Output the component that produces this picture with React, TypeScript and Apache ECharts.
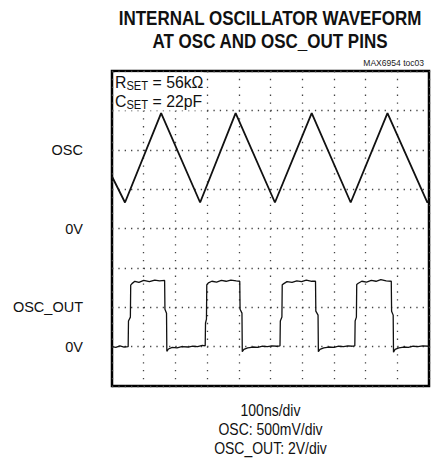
import React, { useEffect, useRef } from "react";
import * as echarts from "echarts";

// time in ns (100 ns/div), vertical in screen divisions (0..8)
const oscPoints: [number, number][] = [
  [0, 5.32], [41, 4.66], [155, 6.93], [278, 4.66], [390, 6.93],
  [514, 4.66], [630, 6.93], [753, 4.66], [869, 6.93], [995, 4.66], [1000, 4.72],
];

const oscOutPoints: [number, number][] = [
  [0, 1.0], [12, 0.98], [25, 1.02], [38, 0.99], [51, 1.0],
  [52, 1.65], [58, 1.75], [59, 2.56], [63, 2.6], [72, 2.66], [85, 2.63], [100, 2.68], [118, 2.65],
  [135, 2.69], [150, 2.67], [166, 2.68],
  [167, 1.95], [172, 1.85], [173, 0.88], [178, 0.94], [190, 0.98], [205, 0.97], [220, 1.0],
  [240, 0.99], [255, 1.01], [270, 1.0], [285, 1.03], [294, 1.02],
  [295, 1.6], [298, 1.7], [299, 2.57], [304, 2.62], [315, 2.66], [330, 2.64], [345, 2.68],
  [360, 2.66], [375, 2.69], [392, 2.67], [403, 2.66],
  [404, 1.95], [410, 1.85], [411, 0.87], [416, 0.93], [428, 0.97], [445, 0.99], [460, 0.98],
  [475, 1.01], [490, 1.0], [505, 1.02], [520, 1.01], [530, 1.02],
  [531, 1.65], [536, 1.75], [537, 2.57], [542, 2.6], [552, 2.65], [568, 2.63], [583, 2.67],
  [598, 2.65], [613, 2.69], [630, 2.66], [642, 2.66],
  [643, 1.9], [650, 1.8], [651, 0.87], [656, 0.93], [668, 0.97], [684, 0.99], [700, 0.98],
  [715, 1.01], [730, 1.0], [745, 1.02], [758, 1.01], [766, 1.02],
  [767, 1.65], [771, 1.75], [772, 2.58], [777, 2.61], [788, 2.66], [803, 2.64], [818, 2.68],
  [833, 2.66], [848, 2.7], [865, 2.67], [881, 2.66],
  [882, 1.9], [887, 1.8], [888, 0.86], [893, 0.93], [905, 0.97], [920, 0.99], [935, 0.98],
  [950, 1.01], [965, 1.0], [980, 1.02], [1000, 1.01],
];

const yTickValues = [6, 4, 2, 1];
const yTickLabels = ["OSC", "0V", "OSC_OUT", "0V"];

const titleLines = ["INTERNAL OSCILLATOR WAVEFORM", "AT OSC AND OSC_OUT PINS"];
const figureId = "MAX6954 toc03";
const scaleLines = ["100ns/div", "OSC: 500mV/div", "OSC_OUT: 2V/div"];

const FONT = '"Liberation Sans", Arial, Helvetica, sans-serif';

export default function App() {
  const ref = useRef<HTMLDivElement>(null);
  useEffect(() => {
    if (!ref.current) return;
    const chart = echarts.init(ref.current, undefined, { renderer: "svg" });
    const option = {
      animation: false,
      backgroundColor: "#fff",
      textStyle: { fontFamily: FONT },
      grid: {
        left: 112,
        top: 71,
        right: 6,
        bottom: 72,
        show: true,
        borderColor: "#000",
        borderWidth: 2.5,
      },
      xAxis: {
        type: "value",
        min: 0,
        max: 1000,
        interval: 100,
        axisLine: { show: false },
        axisTick: { show: false },
        axisLabel: { show: false },
        splitLine: {
          show: true,
          lineStyle: { color: "#444", width: 1.3, type: [1.3, 6.57] },
        },
      },
      yAxis: {
        type: "value",
        min: 0,
        max: 8,
        interval: 1,
        axisLine: { show: false },
        axisTick: { show: false },
        axisLabel: {
          show: true,
          margin: 29,
          color: "#111",
          fontSize: 14.5,
          fontFamily: FONT,
          formatter: (v: number) => {
            const i = yTickValues.indexOf(v);
            return i >= 0 ? yTickLabels[i] : "";
          },
        },
        splitLine: {
          show: true,
          lineStyle: { color: "#444", width: 1.3, type: [1.3, 5.04] },
        },
      },
      series: [
        {
          type: "line",
          data: oscPoints,
          symbol: "none",
          lineStyle: { color: "#111", width: 1.8 },
          z: 5,
        },
        {
          type: "line",
          data: oscOutPoints,
          symbol: "none",
          lineStyle: { color: "#111", width: 1.3 },
          z: 5,
        },
      ],
      graphic: [
        ...titleLines.map((t, i) => ({
          type: "text",
          x: 270,
          y: 18 + i * 23,
          scaleX: 0.85,
          style: {
            text: t,
            align: "center",
            verticalAlign: "middle",
            font: `bold 20px ${FONT}`,
            fill: "#111",
          },
        })),
        {
          type: "text",
          x: 424,
          y: 63,
          scaleX: 0.9,
          style: {
            text: figureId,
            align: "right",
            verticalAlign: "middle",
            font: `9.5px ${FONT}`,
            fill: "#222",
          },
        },
        {
          type: "text",
          x: 115,
          y: 72.5,
          z: 10,
          scaleX: 0.93,
          style: {
            text: "{a|R}{b|SET}{a| = 56kΩ}\n{a|C}{b|SET}{a| = 22pF}",
            fill: "#111",
            backgroundColor: "#fff",
            rich: {
              a: { fontSize: 17, lineHeight: 19, verticalAlign: "middle", fontFamily: FONT, fill: "#111" },
              b: { fontSize: 12, lineHeight: 19, verticalAlign: "bottom", fontFamily: FONT, fill: "#111" },
            },
          },
        },
        ...scaleLines.map((t, i) => ({
          type: "text",
          x: 270.5,
          y: 410 + i * 19,
          scaleX: 0.875,
          style: {
            text: t,
            align: "center",
            verticalAlign: "middle",
            font: `16px ${FONT}`,
            fill: "#111",
          },
        })),
      ],
    };
    chart.setOption(option as any);
    return () => chart.dispose();
  }, []);
  return (
    <div
      ref={ref}
      style={{ position: "fixed", left: 0, top: 0, width: 435, height: 458 }}
    />
  );
}
